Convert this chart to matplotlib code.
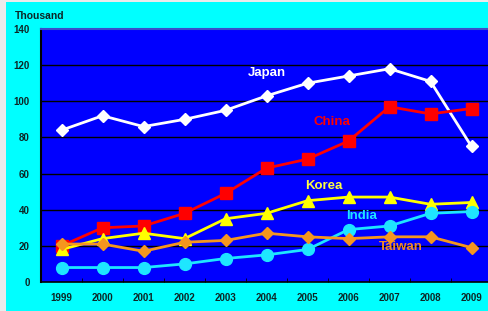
import matplotlib.pyplot as plt
from matplotlib.patches import Rectangle

plt.rcParams['font.family'] = ['Liberation Sans', 'DejaVu Sans']
plt.rcParams['font.weight'] = 'bold'

years = [1999, 2000, 2001, 2002, 2003, 2004, 2005, 2006, 2007, 2008, 2009]
japan = [84, 92, 86, 90, 95, 103, 110, 114, 118, 111, 75]
china = [20, 30, 31, 38, 49, 63, 68, 78, 97, 93, 96]
korea = [18, 24, 27, 24, 35, 38, 45, 47, 47, 43, 44]
india = [8, 8, 8, 10, 13, 15, 18, 29, 31, 38, 39]
taiwan = [21, 21, 17, 22, 23, 27, 25, 24, 25, 25, 19]

series = [
    ('Japan', japan, 'white', 'D', 6.5, 'white', 2004.0, 115.7),
    ('China', china, '#ff0000', 's', 8.5, '#ff0000', 2005.6, 88.5),
    ('Korea', korea, '#ffff00', '^', 9, '#ffff40', 2005.4, 53.1),
    ('India', india, '#1ee6ff', 'o', 8.5, '#1ee6ff', 2006.33, 36.7),
    ('Taiwan', taiwan, '#f5961e', 'D', 6.5, '#f08a28', 2007.27, 19.5),
]

fig = plt.figure(figsize=(4.89, 3.11), dpi=100)
fig.patch.set_facecolor('#ebebeb')
# cyan panel
fig.add_artist(Rectangle((6 / 489, 0), 1, (311 - 2) / 311,
                         transform=fig.transFigure, facecolor='#00ffff',
                         edgecolor='none', zorder=0))

ax = fig.add_axes([41 / 489, 29 / 311, 451 / 489, 253 / 311])
ax.set_facecolor('#0000ff')

for val in range(20, 140, 20):
    ax.axhline(val, color='black', lw=1, zorder=1)

for name, vals, col, mk, ms, tcol, tx, ty in series:
    ax.plot(years, vals, color=col, lw=2, marker=mk, markersize=ms,
            markerfacecolor=col, markeredgecolor=col, zorder=3)
    ax.text(tx, ty, name, color=tcol, fontsize=9.5, fontweight='bold',
            ha='center', va='center', zorder=4)

ax.set_xlim(1998.5, 2009.5)
ax.set_ylim(0, 140)
ax.set_xticks(years)
ax.set_xticklabels([str(y) for y in years])
ax.set_xticks([y + 0.5 for y in years[:-1]], minor=True)
ax.set_yticks(range(0, 141, 20))
ax.tick_params(axis='x', which='major', length=0, pad=8, labelsize=7,
               labelcolor='#0d2626')
ax.tick_params(axis='x', which='minor', length=3, direction='in', color='black')
ax.tick_params(axis='y', length=0, pad=8, labelsize=7, labelcolor='#0d2626')
for lab in ax.get_xticklabels() + ax.get_yticklabels():
    lab.set_fontweight('bold')

ax.spines['left'].set_color('black')
ax.spines['left'].set_linewidth(1.5)
ax.spines['bottom'].set_color('black')
ax.spines['bottom'].set_linewidth(1.2)
ax.spines['top'].set_color('#3a4ecc')
ax.spines['top'].set_linewidth(1.5)
ax.spines['right'].set_visible(False)

fig.text(15 / 489, 1 - 16 / 311, 'Thousand', fontsize=7.5, fontweight='bold',
         color='#0d2626', ha='left', va='center')

fig.savefig('out.png', dpi=100, facecolor=fig.get_facecolor())
